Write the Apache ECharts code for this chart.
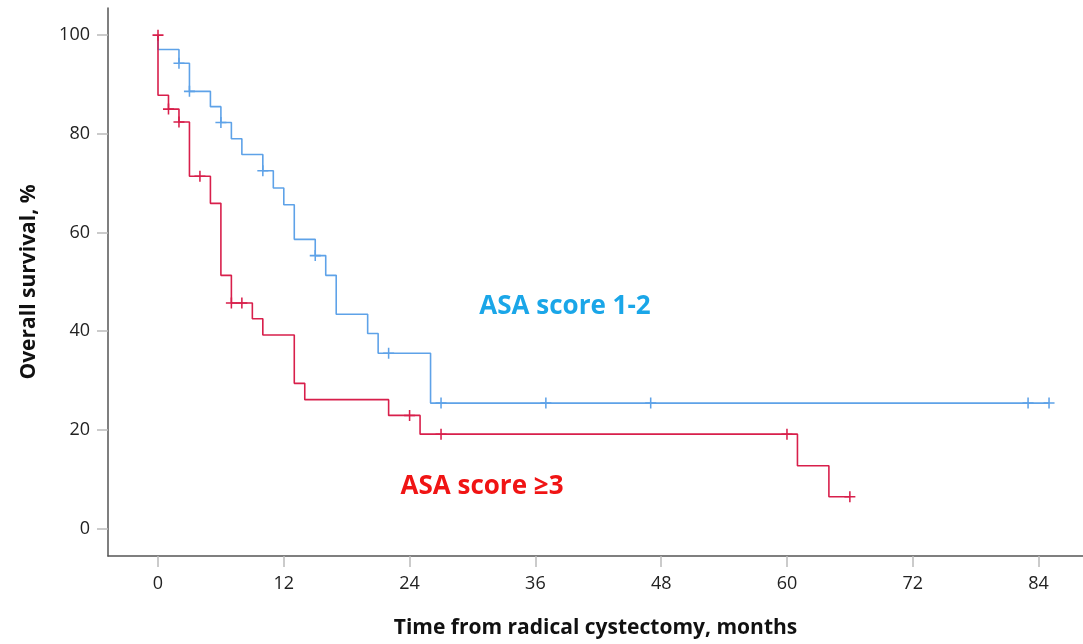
<!DOCTYPE html>
<html>
<head>
<meta charset="utf-8">
<script src="https://cdn.jsdelivr.net/npm/echarts@6/dist/echarts.min.js"></script>
<style>
html,body{margin:0;padding:0;background:#fff;}
#chart{width:1083px;height:644px;}
</style>
</head>
<body>
<div id="chart"></div>
<script>
// Kaplan-Meier step data (time in months, survival %)
const blueTimes = [0, 0, 2, 3, 5, 6, 7, 8, 10, 11, 12, 13, 15, 16, 17, 20, 21, 26, 85];
const blueSurv  = [100, 97.1, 94.3, 88.6, 85.5, 82.3, 79.0, 75.8, 72.5, 69.0, 65.6, 58.6, 55.3, 51.3, 43.4, 39.5, 35.5, 25.4, 25.4];
const blueCensorTimes = [2, 3, 6, 10, 15, 22, 27, 37, 47, 83, 85];
const blueCensorSurv  = [94.3, 88.6, 82.3, 72.5, 55.3, 35.5, 25.4, 25.4, 25.4, 25.4, 25.4];

const redTimes = [0, 0, 1, 2, 3, 5, 6, 7, 9, 10, 13, 14, 22, 25, 61, 64, 66];
const redSurv  = [100, 87.8, 85.0, 82.4, 71.4, 65.9, 51.3, 45.7, 42.5, 39.2, 29.4, 26.1, 22.9, 19.1, 12.7, 6.4, 6.4];
const redCensorTimes = [0, 1, 2, 4, 7, 8, 24, 27, 60, 66];
const redCensorSurv  = [100, 85.0, 82.4, 71.4, 45.7, 45.7, 22.9, 19.1, 19.1, 6.4];

const xTicks = [0, 12, 24, 36, 48, 60, 72, 84];
const yTicks = [0, 20, 40, 60, 80, 100];

const blueLabel = 'ASA score 1-2';
const redLabel = 'ASA score ≥3';
const xTitle = 'Time from radical cystectomy, months';
const yTitle = 'Overall survival, %';

const BLUE = '#5ea2e8';
const RED = '#d81f4b';

const zip = (a, b) => a.map((v, i) => [v, b[i]]);
const plusPath = 'path://M4.3,0 h1.4 v4.3 h4.3 v1.4 h-4.3 v4.3 h-1.4 v-4.3 h-4.3 v-1.4 h4.3 z';

const chart = echarts.init(document.getElementById('chart'), null, {renderer: 'canvas'});
chart.setOption({
  animation: false,
  backgroundColor: '#fff',
  grid: {left: 108, top: 8, right: 0, bottom: 87, containLabel: false},
  xAxis: {
    type: 'value', min: -4.77, max: 88.24,
    name: xTitle, nameLocation: 'middle', nameGap: 62,
    nameTextStyle: {fontFamily: 'Open Sans', fontWeight: 'bold', fontSize: 21, color: '#111'},
    axisLine: {show: true, onZero: false, lineStyle: {color: '#555', width: 1.5}},
    axisTick: {show: true, inside: false, customValues: xTicks, length: 11, lineStyle: {color: '#bbb', width: 1.5}},
    axisLabel: {customValues: xTicks, margin: 19, fontFamily: 'Open Sans', fontSize: 18, color: '#222'},
    splitLine: {show: false}
  },
  yAxis: {
    type: 'value', min: -5.6, max: 105.5,
    name: yTitle, nameLocation: 'middle', nameGap: 68, nameRotate: 90,
    nameTextStyle: {fontFamily: 'Open Sans', fontWeight: 'bold', fontSize: 21, color: '#111'},
    axisLine: {show: true, onZero: false, lineStyle: {color: '#555', width: 1.5}},
    axisTick: {show: true, inside: false, customValues: yTicks, length: 11, lineStyle: {color: '#bbb', width: 1.5}},
    axisLabel: {customValues: yTicks, margin: 18, fontFamily: 'Open Sans', fontSize: 18, color: '#222'},
    splitLine: {show: false}
  },
  series: [
    {type: 'line', step: 'end', data: zip(blueTimes, blueSurv), showSymbol: false, symbol: 'none',
     lineStyle: {color: BLUE, width: 1.6}, z: 2},
    {type: 'scatter', data: zip(blueCensorTimes, blueCensorSurv), symbol: plusPath, symbolSize: 11,
     itemStyle: {color: BLUE, opacity: 1}, z: 3},
    {type: 'line', step: 'end', data: zip(redTimes, redSurv), showSymbol: false, symbol: 'none',
     lineStyle: {color: RED, width: 1.6}, z: 4},
    {type: 'scatter', data: zip(redCensorTimes, redCensorSurv), symbol: plusPath, symbolSize: 11,
     itemStyle: {color: RED, opacity: 1}, z: 5}
  ],
  graphic: [
    {type: 'text', x: 565, y: 307, style: {text: blueLabel, align: 'center', verticalAlign: 'middle',
      font: 'bold 26px "Open Sans"', fill: '#1aa6e8'}},
    {type: 'text', x: 482, y: 487, style: {text: redLabel, align: 'center', verticalAlign: 'middle',
      font: 'bold 26px "Open Sans"', fill: '#f01414'}}
  ]
});
</script>
</body>
</html>
